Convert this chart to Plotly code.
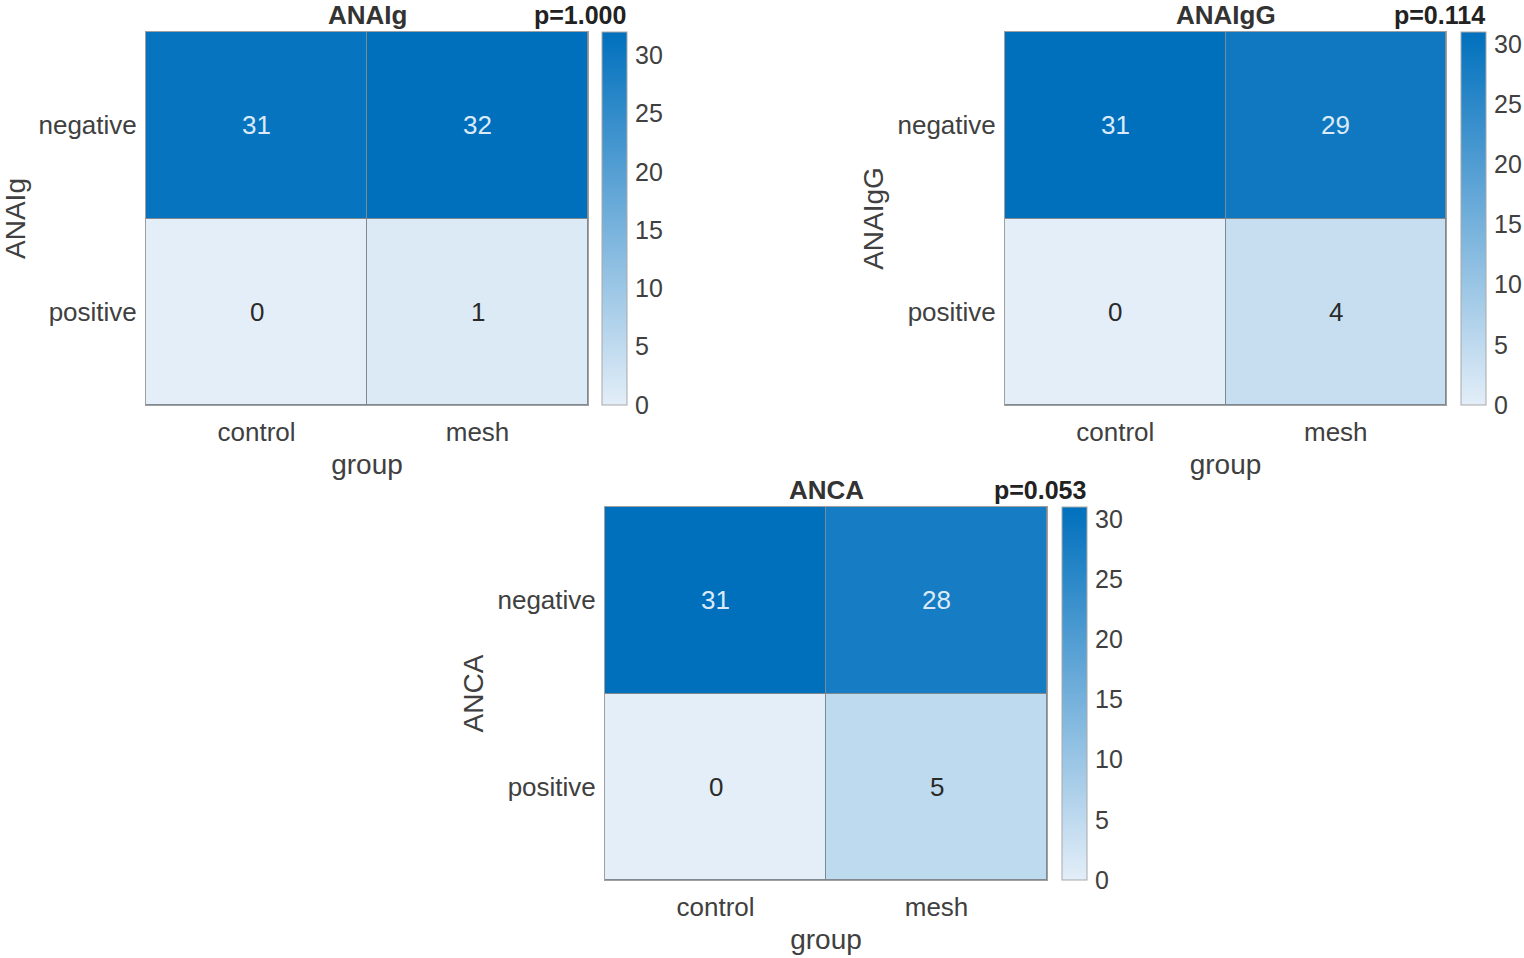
import plotly.graph_objects as go

groups = ["control", "mesh"]
status = ["negative", "positive"]

titles = ["ANAIg", "ANAIgG", "ANCA"]
pvalues = ["p=1.000", "p=0.114", "p=0.053"]
# rows: negative, positive ; cols: control, mesh
counts_ANAIg = [[31, 32], [0, 1]]
counts_ANAIgG = [[31, 29], [0, 4]]
counts_ANCA = [[31, 28], [0, 5]]
cbar_ticks = [0, 5, 10, 15, 20, 25, 30]

all_counts = [counts_ANAIg, counts_ANAIgG, counts_ANCA]

W, H = 1524, 958
# panel boxes in page pixels: (left, top, right, bottom, colorbar left)
boxes = [(146, 32, 588, 405, 602), (1005, 32, 1446, 405, 1461), (605, 507, 1047, 880, 1062)]
ytitle_standoff = [12, 5, 5]


def px(x):
    return x / W


def py(y):
    return 1 - y / H


CMIN = (227, 238, 248)
CMAX = (0, 112, 189)
colorscale = [[0, "rgb(%d,%d,%d)" % CMIN], [1, "rgb(%d,%d,%d)" % CMAX]]
FONT = "Liberation Sans, Arial, sans-serif"
TXT = "#404040"

fig = go.Figure()
annotations = []
for i, (z, title, pv, box) in enumerate(zip(all_counts, titles, pvalues, boxes)):
    l, t, r, b, cbl = box
    xa = "x" if i == 0 else "x%d" % (i + 1)
    ya = "y" if i == 0 else "y%d" % (i + 1)
    zmax = max(max(row) for row in z)
    fig.add_trace(go.Heatmap(
        z=z, x=groups, y=status, xaxis=xa, yaxis=ya,
        colorscale=colorscale, zmin=0, zmax=zmax, xgap=1, ygap=1,
        hoverinfo="skip",
        colorbar=dict(
            x=px(cbl), xanchor="left", xref="paper",
            y=py(t), yanchor="top", yref="paper",
            len=(b - t), lenmode="pixels", thickness=25, thicknessmode="pixels",
            outlinecolor="#A8A8A8", outlinewidth=1,
            tickvals=cbar_ticks, ticks="outside", ticklen=3, tickcolor="rgba(0,0,0,0)",
            tickfont=dict(size=25, color=TXT, family=FONT),
            xpad=0, ypad=0,
        ),
    ))
    dom_x = [px(l), px(r)]
    dom_y = [py(b), py(t)]
    axis_common = dict(showline=True, mirror=True, linecolor="#A0A0A0", linewidth=1,
                       ticks="", showgrid=False, zeroline=False, fixedrange=True,
                       automargin=False,
                       tickfont=dict(size=26, color=TXT, family=FONT))
    fig.layout[("xaxis" if i == 0 else "xaxis%d" % (i + 1))] = dict(
        domain=dom_x, anchor=ya, ticklabelstandoff=4,
        title=dict(text="group", font=dict(size=28, color=TXT, family=FONT), standoff=8),
        **axis_common)
    fig.layout[("yaxis" if i == 0 else "yaxis%d" % (i + 1))] = dict(
        domain=dom_y, anchor=xa, autorange="reversed", ticklabelstandoff=3,
        title=dict(text=title, font=dict(size=28, color=TXT, family=FONT),
                   standoff=ytitle_standoff[i]),
        **axis_common)
    # cell labels
    for ri, row in enumerate(z):
        for ci, v in enumerate(row):
            col = "#DCEAF7" if v / zmax > 0.5 else "#2A2A2A"
            annotations.append(dict(x=groups[ci], y=status[ri], xref=xa, yref=ya,
                                    text=str(v), showarrow=False,
                                    font=dict(size=26, color=col, family=FONT)))
    # title and p-value
    annotations.append(dict(x=px((l + r) / 2), y=py(t - 17), xref="paper", yref="paper",
                            text="<b>%s</b>" % title, showarrow=False, xanchor="center",
                            yanchor="middle", borderpad=0,
                            font=dict(size=26, color="#333", family=FONT)))
    annotations.append(dict(x=px(cbl + 25), y=py(t - 17), xref="paper", yref="paper",
                            text="<b>%s</b>" % pv, showarrow=False, xanchor="right",
                            yanchor="middle", borderpad=0,
                            font=dict(size=25, color="#222", family=FONT)))

fig.update_layout(
    width=W, height=H, margin=dict(l=0, r=0, t=0, b=0),
    paper_bgcolor="white", plot_bgcolor="#808890",
    annotations=annotations, showlegend=False,
    font=dict(family=FONT, color=TXT),
)
fig.write_html("out.html", config={"displayModeBar": False},
               post_script="document.body.style.margin='0';document.body.style.padding='0';")
